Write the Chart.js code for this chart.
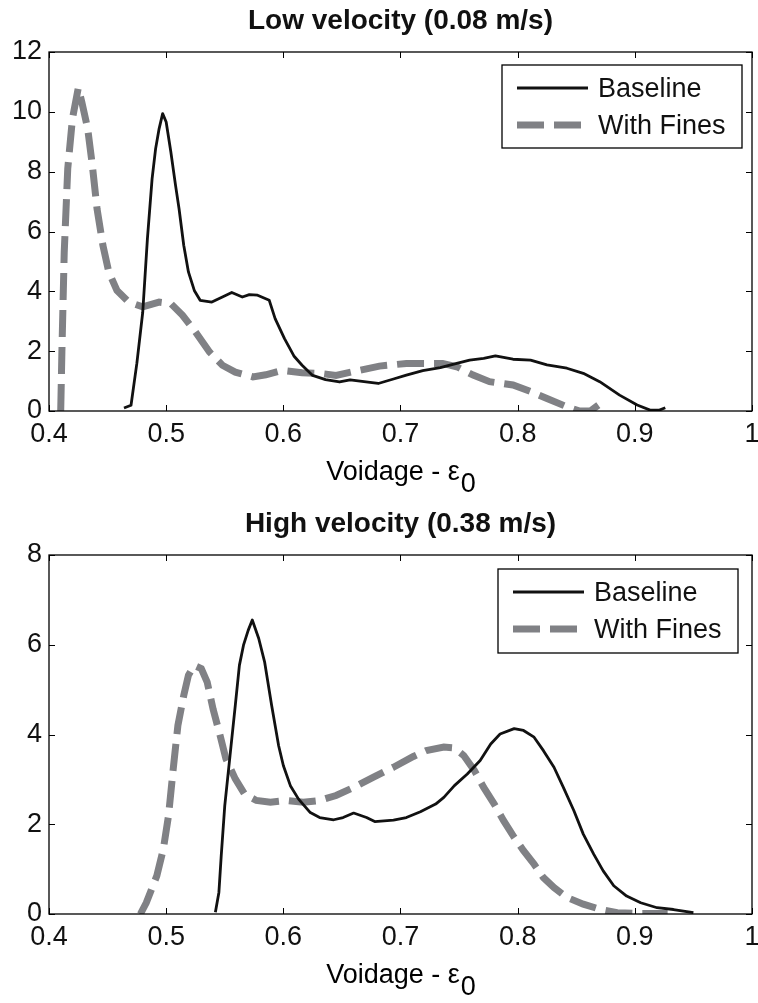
<!DOCTYPE html>
<html>
<head>
<meta charset="utf-8">
<script src="https://cdn.jsdelivr.net/npm/chart.js@4.4.1/dist/chart.umd.min.js"></script>
<style>
  html, body { margin: 0; padding: 0; background: #fff; overflow: hidden; }
  canvas { display: block; }
</style>
</head>
<body>
<canvas id="lowChart" width="758" height="503"></canvas>
<canvas id="highChart" width="758" height="500"></canvas>
<script>
// low velocity (0.08 m/s)
const lowBaseX = [0.464, 0.470, 0.475, 0.480, 0.484, 0.488, 0.491, 0.494, 0.497, 0.500, 0.504, 0.508, 0.511, 0.515, 0.519, 0.524, 0.529, 0.539, 0.548, 0.556, 0.565, 0.571, 0.578, 0.588, 0.593, 0.601, 0.609, 0.616, 0.625, 0.636, 0.648, 0.657, 0.674, 0.681, 0.694, 0.705, 0.719, 0.734, 0.748, 0.759, 0.771, 0.781, 0.796, 0.811, 0.825, 0.842, 0.856, 0.870, 0.887, 0.902, 0.913, 0.921, 0.926];
const lowBaseY = [0.1, 0.19, 1.6, 3.3, 5.76, 7.77, 8.77, 9.44, 9.94, 9.66, 8.66, 7.54, 6.76, 5.54, 4.65, 4.03, 3.70, 3.64, 3.81, 3.96, 3.81, 3.89, 3.87, 3.70, 3.09, 2.42, 1.84, 1.53, 1.19, 1.05, 0.97, 1.04, 0.96, 0.92, 1.07, 1.20, 1.35, 1.45, 1.59, 1.70, 1.76, 1.84, 1.73, 1.70, 1.54, 1.43, 1.26, 0.98, 0.53, 0.20, 0.03, 0.03, 0.11];
const lowFinesX = [0.410, 0.411, 0.413, 0.416, 0.420, 0.425, 0.428, 0.433, 0.437, 0.441, 0.446, 0.451, 0.458, 0.468, 0.480, 0.494, 0.504, 0.514, 0.525, 0.537, 0.548, 0.559, 0.574, 0.585, 0.599, 0.616, 0.633, 0.645, 0.659, 0.682, 0.705, 0.722, 0.736, 0.748, 0.762, 0.776, 0.796, 0.811, 0.825, 0.842, 0.853, 0.862, 0.869];
const lowFinesY = [0, 1.97, 5.31, 8.10, 9.77, 10.8, 10.33, 9.44, 8.21, 6.76, 5.54, 4.65, 4.03, 3.64, 3.48, 3.64, 3.59, 3.20, 2.64, 1.97, 1.53, 1.30, 1.14, 1.21, 1.36, 1.28, 1.25, 1.19, 1.31, 1.50, 1.59, 1.59, 1.59, 1.48, 1.20, 0.98, 0.87, 0.65, 0.42, 0.14, 0.0, 0.0, 0.2];

// high velocity (0.38 m/s)
const highBaseX = [0.542, 0.545, 0.547, 0.550, 0.5545, 0.559, 0.5625, 0.566, 0.570, 0.5735, 0.579, 0.584, 0.590, 0.596, 0.600, 0.606, 0.613, 0.623, 0.631, 0.643, 0.651, 0.660, 0.671, 0.678, 0.694, 0.705, 0.717, 0.730, 0.737, 0.746, 0.757, 0.768, 0.777, 0.785, 0.797, 0.805, 0.814, 0.822, 0.831, 0.839, 0.848, 0.856, 0.865, 0.873, 0.882, 0.893, 0.905, 0.919, 0.933, 0.950];
const highBaseY = [0.04, 0.48, 1.30, 2.41, 3.53, 4.65, 5.54, 5.99, 6.32, 6.55, 6.14, 5.62, 4.65, 3.75, 3.31, 2.86, 2.56, 2.26, 2.15, 2.10, 2.15, 2.25, 2.15, 2.06, 2.09, 2.15, 2.28, 2.45, 2.60, 2.86, 3.12, 3.42, 3.79, 4.01, 4.13, 4.09, 3.94, 3.64, 3.27, 2.82, 2.30, 1.78, 1.33, 0.96, 0.63, 0.40, 0.25, 0.14, 0.10, 0.03];
const highFinesX = [0.478, 0.483, 0.492, 0.4976, 0.502, 0.506, 0.510, 0.515, 0.519, 0.524, 0.530, 0.535, 0.540, 0.546, 0.551, 0.559, 0.567, 0.577, 0.589, 0.603, 0.617, 0.631, 0.645, 0.660, 0.677, 0.694, 0.711, 0.722, 0.737, 0.746, 0.754, 0.763, 0.771, 0.780, 0.788, 0.797, 0.805, 0.814, 0.822, 0.831, 0.842, 0.856, 0.871, 0.885, 0.905, 0.928];
const highFinesY = [0, 0.25, 0.85, 1.45, 2.19, 3.23, 4.20, 4.87, 5.32, 5.54, 5.47, 5.17, 4.57, 3.98, 3.46, 3.01, 2.67, 2.53, 2.49, 2.53, 2.49, 2.53, 2.64, 2.82, 3.05, 3.27, 3.51, 3.64, 3.72, 3.70, 3.53, 3.20, 2.82, 2.45, 2.08, 1.71, 1.41, 1.11, 0.81, 0.59, 0.37, 0.22, 0.10, 0.03, 0.01, 0.01];

const seriesLabels = ['Baseline', 'With Fines'];
const xTicks = [0.4, 0.5, 0.6, 0.7, 0.8, 0.9, 1];
const xTitle = 'Voidage - ε';
const xTitleSub = '0';

const FONT = '"Liberation Sans", Arial, Helvetica, sans-serif';
Chart.defaults.font.family = FONT;
Chart.defaults.color = '#000';

const toPoints = (xs, ys) => xs.map((x, i) => ({ x: x, y: ys[i] }));

// box around the axes, inward ticks, legend box and the x label with its subscript
const matlabFrame = {
  id: 'matlabFrame',
  afterDraw(chart, args, opts) {
    const { ctx, chartArea: a, scales } = chart;
    ctx.save();
    ctx.strokeStyle = '#000';
    ctx.lineWidth = 1.3;
    ctx.strokeRect(a.left, a.top, a.right - a.left, a.bottom - a.top);

    ctx.lineWidth = 1;
    ctx.beginPath();
    scales.x.ticks.forEach(t => {
      const px = Math.round(scales.x.getPixelForValue(t.value)) + 0.5;
      ctx.moveTo(px, a.bottom); ctx.lineTo(px, a.bottom - 6);
      ctx.moveTo(px, a.top); ctx.lineTo(px, a.top + 6);
    });
    scales.y.ticks.forEach(t => {
      const py = Math.round(scales.y.getPixelForValue(t.value)) + 0.5;
      ctx.moveTo(a.left, py); ctx.lineTo(a.left + 6, py);
      ctx.moveTo(a.right, py); ctx.lineTo(a.right - 6, py);
    });
    ctx.stroke();

    // x axis label
    ctx.font = '27px ' + FONT;
    ctx.fillStyle = '#000';
    ctx.textAlign = 'left';
    ctx.textBaseline = 'alphabetic';
    const w1 = ctx.measureText(opts.title).width;
    const w2 = ctx.measureText(opts.sub).width;
    const x0 = (a.left + a.right) / 2 - (w1 + w2) / 2;
    ctx.fillText(opts.title, x0, a.bottom + 69);
    ctx.fillText(opts.sub, x0 + w1 + 1, a.bottom + 81);

    // legend
    const b = opts.legend;
    ctx.fillStyle = '#fff';
    ctx.fillRect(b.x, b.y, b.w, b.h);
    ctx.lineWidth = 1.3;
    ctx.strokeStyle = '#000';
    ctx.strokeRect(b.x, b.y, b.w, b.h);
    chart.data.datasets.forEach((ds, i) => {
      const rowY = b.y + 23 + i * 37;
      ctx.save();
      ctx.beginPath();
      ctx.rect(b.x + 15, b.y, 72, b.h);
      ctx.clip();
      ctx.strokeStyle = ds.borderColor;
      ctx.lineWidth = ds.borderWidth;
      ctx.setLineDash(ds.borderDash || []);
      ctx.beginPath();
      ctx.moveTo(b.x + 15, rowY);
      ctx.lineTo(b.x + 86, rowY);
      ctx.stroke();
      ctx.restore();
      ctx.fillStyle = '#111';
      ctx.textBaseline = 'middle';
      ctx.fillText(ds.label, b.x + 96, rowY + 2);
    });
    ctx.restore();
  }
};

function makeChart(id, title, baseX, baseY, finesX, finesY, yMax, legendBox) {
  const ctx = document.getElementById(id).getContext('2d');
  return new Chart(ctx, {
    type: 'line',
    data: {
      datasets: [{
        label: seriesLabels[0],
        data: toPoints(baseX, baseY),
        borderColor: '#111',
        borderWidth: 2.8,
        pointRadius: 0,
        tension: 0,
        borderJoinStyle: 'round'
      }, {
        label: seriesLabels[1],
        data: toPoints(finesX, finesY),
        borderColor: 'rgb(128,129,133)',
        borderWidth: 7,
        borderDash: [27, 10],
        pointRadius: 0,
        tension: 0,
        borderCapStyle: 'butt'
      }]
    },
    options: {
      responsive: false,
      animation: false,
      devicePixelRatio: 1,
      layout: { padding: { left: 0, right: 6, top: 0, bottom: 0 } },
      scales: {
        x: {
          type: 'linear',
          min: 0.4,
          max: 1,
          afterBuildTicks: s => { s.ticks = xTicks.map(v => ({ value: v })); },
          afterFit: s => { s.height = s.chart.height - 411; s.paddingLeft = 0; s.paddingRight = 0; },
          grid: { display: false, drawTicks: false },
          border: { display: false },
          ticks: {
            autoSkip: false,
            maxRotation: 0,
            padding: 7,
            font: { size: 27 },
            color: '#111',
            callback: v => String(Math.round(v * 10) / 10)
          }
        },
        y: {
          min: 0,
          max: yMax,
          afterFit: s => { s.width = 49; s.paddingTop = 0; s.paddingBottom = 0; },
          grid: { display: false, drawTicks: false },
          border: { display: false },
          ticks: {
            stepSize: 2,
            padding: 7,
            font: { size: 27 },
            color: '#111'
          }
        }
      },
      plugins: {
        legend: { display: false },
        tooltip: { enabled: false },
        title: {
          display: true,
          text: title,
          fullSize: false,
          color: '#111',
          font: { size: 28, weight: 'bold' },
          padding: { top: 4, bottom: 14.4 }
        },
        matlabFrame: { title: xTitle, sub: xTitleSub, legend: legendBox }
      }
    },
    plugins: [matlabFrame]
  });
}

document.addEventListener('DOMContentLoaded', () => {
  makeChart('lowChart', 'Low velocity (0.08 m/s)', lowBaseX, lowBaseY, lowFinesX, lowFinesY, 12,
    { x: 502, y: 65, w: 240, h: 83 });
  makeChart('highChart', 'High velocity (0.38 m/s)', highBaseX, highBaseY, highFinesX, highFinesY, 8,
    { x: 498, y: 66, w: 240, h: 84 });
});
</script>
</body>
</html>
